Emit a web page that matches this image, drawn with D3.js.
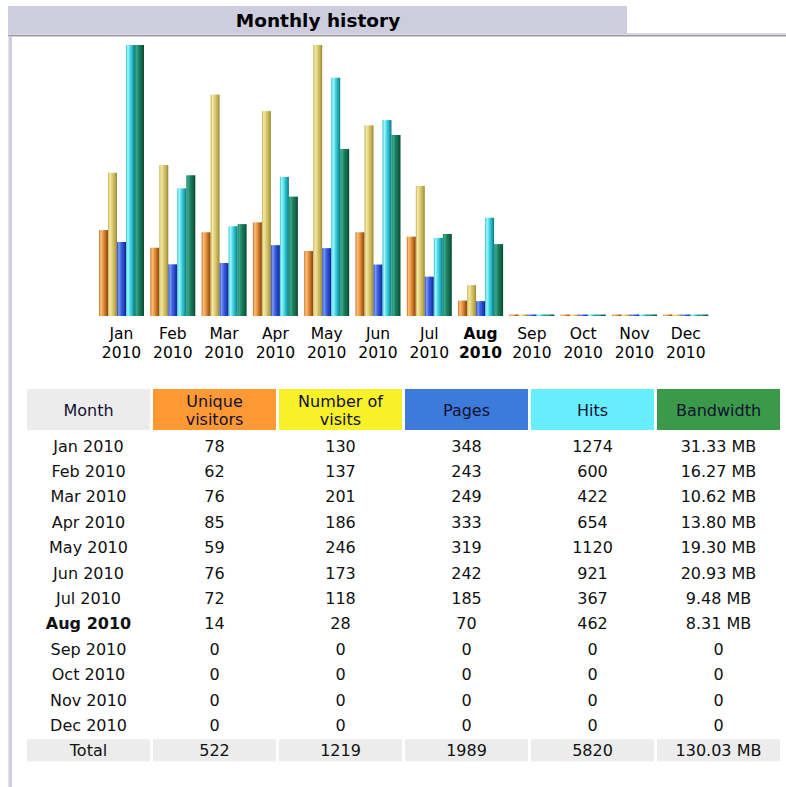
<!doctype html>
<html lang="en">
  <head>
    <meta charset="UTF-8" />
    <title>Monthly history</title>
    <script src="https://d3js.org/d3.v7.min.js"></script>
    <style>
      html, body { margin: 0; padding: 0; background: #fff; }
      svg { display: block; font-family: "DejaVu Sans", Verdana, sans-serif; }
    </style>
  </head>
  <body>
    <svg id="chart" width="786" height="787"></svg>
    <script>
      // data
      const months = ["Jan", "Feb", "Mar", "Apr", "May", "Jun", "Jul", "Aug", "Sep", "Oct", "Nov", "Dec"];
      const year = "2010";
      const currentMonth = "Aug";
      const visitors = [78, 62, 76, 85, 59, 76, 72, 14, 0, 0, 0, 0];
      const visits = [130, 137, 201, 186, 246, 173, 118, 28, 0, 0, 0, 0];
      const pages = [348, 243, 249, 333, 319, 242, 185, 70, 0, 0, 0, 0];
      const hits = [1274, 600, 422, 654, 1120, 921, 367, 462, 0, 0, 0, 0];
      const bandwidth = [31.33, 16.27, 10.62, 13.80, 19.30, 20.93, 9.48, 8.31, 0, 0, 0, 0]; // MB
      const totals = ["522", "1219", "1989", "5820", "130.03 MB"];
      const headers = [["Month"], ["Unique", "visitors"], ["Number of", "visits"], ["Pages"], ["Hits"], ["Bandwidth"]];

      const series = [
        { key: "visitors", values: visitors, group: "v", stops: ["#c87020", "#f8c07a", "#ec9a48", "#b8661c", "#8a4610"] },
        { key: "visits", values: visits, group: "v", stops: ["#c0b050", "#f2e8a8", "#e0d078", "#c0ae50", "#9a8a38"] },
        { key: "pages", values: pages, group: "h", stops: ["#2a48c0", "#7c9cf4", "#4064e4", "#2440c0", "#102888"] },
        { key: "hits", values: hits, group: "h", stops: ["#30c0d0", "#a8f6fa", "#48dce6", "#20a8b8", "#107884"] },
        { key: "bandwidth", values: bandwidth, group: "b", stops: ["#1a8a6a", "#3aa888", "#1c7e60", "#126648", "#0a4632"] }
      ];
      const headerFill = ["#ececec", "#ff9933", "#f8f028", "#3d7bdb", "#66eeff", "#3a9a4a"];

      const svg = d3.select("#chart");

      // frame + title
      svg.append("rect").attr("x", 8).attr("y", 33).attr("width", 778).attr("height", 3).attr("fill", "#d8d8e6");
      svg.append("rect").attr("x", 8).attr("y", 35).attr("width", 778).attr("height", 1.5).attr("fill", "#9a9a9a");
      svg.append("rect").attr("x", 8).attr("y", 6).attr("width", 619).attr("height", 28).attr("fill", "#cdcddd");
      svg.append("rect").attr("x", 8.5).attr("y", 36).attr("width", 3.5).attr("height", 751).attr("fill", "#cdcddd");
      svg.append("text")
        .attr("x", 318).attr("y", 26.5)
        .attr("text-anchor", "middle")
        .attr("font-size", "18.5px").attr("font-weight", "bold").attr("fill", "#000")
        .text("Monthly history");

      // gradients
      const defs = svg.append("defs");
      series.forEach(s => {
        const g = defs.append("linearGradient").attr("id", "g-" + s.key)
          .attr("x1", "0").attr("x2", "1").attr("y1", "0").attr("y2", "0");
        const offs = [0, 0.2, 0.45, 0.75, 1];
        s.stops.forEach((c, i) => g.append("stop").attr("offset", offs[i]).attr("stop-color", c));
      });

      // scales
      const x = d3.scaleBand().domain(months).range([99, 708.3]).paddingInner(6.3 / 51.3).paddingOuter(0);
      const xs = d3.scaleBand().domain(series.map(s => s.key)).range([0, x.bandwidth()]);
      const baseY = 316, topY = 45;
      const yScale = {
        v: d3.scaleLinear().domain([0, d3.max(visits)]).range([0, baseY - topY]),
        h: d3.scaleLinear().domain([0, d3.max(hits)]).range([0, baseY - topY]),
        b: d3.scaleLinear().domain([0, d3.max(bandwidth)]).range([0, baseY - topY])
      };

      const groups = svg.append("g").selectAll("g")
        .data(months)
        .join("g")
        .attr("transform", d => `translate(${x(d)},0)`);

      groups.selectAll("rect")
        .data((m, i) => series.map(s => ({ s, v: s.values[i] })))
        .join("rect")
        .attr("x", d => xs(d.s.key))
        .attr("width", xs.bandwidth())
        .attr("y", d => baseY - Math.max(yScale[d.s.group](d.v), 1.5))
        .attr("height", d => Math.max(yScale[d.s.group](d.v), 1.5))
        .attr("fill", d => `url(#g-${d.s.key})`);

      // month labels
      const lab = svg.append("g").selectAll("text")
        .data(months)
        .join("text")
        .attr("x", d => x(d) + x.bandwidth() / 2)
        .attr("text-anchor", "middle")
        .attr("font-size", "15.5px")
        .attr("font-weight", d => d === currentMonth ? "bold" : "normal")
        .attr("fill", "#000");
      lab.append("tspan").attr("x", d => x(d) + x.bandwidth() / 2).attr("y", 339).text(d => d);
      lab.append("tspan").attr("x", d => x(d) + x.bandwidth() / 2).attr("y", 358).text(year);

      // table
      const cols = d3.range(6);
      const cx = d3.scaleBand().domain(cols).range([27, 780]).paddingInner(3 / 126).paddingOuter(0);
      const rowKeys = months.concat(["Total"]);
      const ry = d3.scaleBand().domain(rowKeys).range([433, 763.2]);

      const head = svg.append("g");
      head.selectAll("rect").data(cols).join("rect")
        .attr("x", d => cx(d)).attr("y", 389)
        .attr("width", cx.bandwidth()).attr("height", 41)
        .attr("fill", d => headerFill[d]);
      head.selectAll("text").data(cols).join("text")
        .attr("text-anchor", "middle")
        .attr("font-size", "16px").attr("fill", "#101030")
        .each(function (d) {
          const lines = headers[d];
          const t = d3.select(this);
          lines.forEach((ln, k) => {
            const yc = lines.length === 1 ? 410 : 401 + k * 18.5;
            t.append("tspan").attr("x", cx(d) + cx.bandwidth() / 2).attr("y", yc + 5.8).text(ln);
          });
        });

      function fmtBw(v) { return v === 0 ? "0" : v.toFixed(2) + " MB"; }

      const rows = months.map((m, i) => [m + " " + year, visitors[i], visits[i], pages[i], hits[i], fmtBw(bandwidth[i])]);
      rows.push(["Total"].concat(totals));

      const body = svg.append("g");
      // total row background
      body.selectAll("rect").data(cols).join("rect")
        .attr("x", d => cx(d)).attr("y", ry("Total") + 1.5)
        .attr("width", cx.bandwidth()).attr("height", 22)
        .attr("fill", "#ececec");

      const rowG = body.selectAll("g.row").data(rows).join("g").attr("class", "row");
      rowG.selectAll("text")
        .data((r, i) => r.map((v, c) => ({ v, c, key: rowKeys[i] })))
        .join("text")
        .attr("x", d => cx(d.c) + cx.bandwidth() / 2)
        .attr("y", d => ry(d.key) + ry.bandwidth() / 2 + 5.8)
        .attr("text-anchor", "middle")
        .attr("font-size", "16px")
        .attr("font-weight", d => d.c === 0 && d.key === currentMonth ? "bold" : "normal")
        .attr("fill", "#111")
        .text(d => d.v);
    </script>
  </body>
</html>
